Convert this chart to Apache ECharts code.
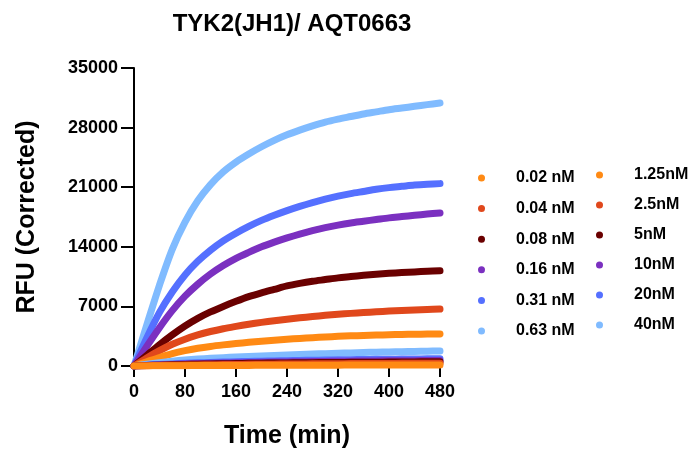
<!DOCTYPE html>
<html>
<head>
<meta charset="utf-8">
<style>
  html, body { margin: 0; padding: 0; background: #fff; }
  #chart { width: 695px; height: 454px; }
</style>
<script src="https://cdn.jsdelivr.net/npm/echarts@6/dist/echarts.min.js"></script>
</head>
<body>
<div id="chart"></div>
<script>
// time points (min)
const minutes = [0, 20, 40, 60, 80, 100, 120, 140, 160, 180, 200, 220, 240, 260, 280, 300, 320, 340, 360, 380, 400, 420, 440, 460, 480]

// RFU (corrected), one array per concentration
const c0_02 = [0, 10, 20, 30, 40, 50, 60, 60, 70, 70, 80, 80, 90, 90, 100, 100, 100, 110, 110, 110, 120, 120, 120, 130, 130]
const c0_04 = [0, 30, 60, 90, 110, 130, 150, 170, 180, 200, 210, 220, 230, 240, 250, 260, 270, 280, 290, 290, 300, 310, 320, 320, 330]
const c0_08 = [0, 50, 100, 140, 180, 210, 240, 260, 290, 310, 330, 350, 360, 380, 390, 410, 420, 430, 440, 450, 460, 470, 480, 490, 500]
const c0_16 = [0, 70, 130, 190, 240, 280, 320, 350, 380, 410, 430, 460, 480, 500, 520, 540, 550, 570, 580, 600, 610, 620, 630, 640, 650]
const c0_31 = [0, 100, 180, 250, 310, 370, 420, 460, 500, 540, 570, 600, 630, 660, 680, 700, 720, 740, 760, 780, 790, 810, 820, 840, 850]
const c0_63 = [0, 200, 390, 560, 700, 810, 900, 980, 1050, 1120, 1180, 1240, 1300, 1350, 1400, 1450, 1500, 1540, 1580, 1620, 1650, 1680, 1710, 1740, 1760]
const c1_25 = [0, 500, 1000, 1450, 1800, 2080, 2300, 2480, 2640, 2780, 2910, 3030, 3140, 3240, 3330, 3410, 3480, 3540, 3590, 3630, 3670, 3700, 3730, 3750, 3770]
const c2_5 = [0, 950, 1800, 2550, 3150, 3650, 4050, 4380, 4650, 4900, 5120, 5320, 5500, 5660, 5810, 5950, 6070, 6180, 6280, 6370, 6450, 6520, 6580, 6640, 6690]
const c5 = [0, 1250, 2500, 3650, 4700, 5600, 6350, 7000, 7600, 8150, 8600, 9000, 9400, 9700, 9950, 10150, 10350, 10500, 10650, 10780, 10880, 10970, 11050, 11120, 11180]
const c10 = [0, 2300, 4500, 6500, 8200, 9600, 10800, 11800, 12650, 13350, 14000, 14550, 15050, 15500, 15900, 16250, 16550, 16800, 17000, 17200, 17400, 17550, 17700, 17850, 17980]
const c20 = [0, 3300, 6300, 8700, 10700, 12300, 13600, 14700, 15600, 16400, 17100, 17700, 18250, 18750, 19200, 19600, 19950, 20250, 20500, 20750, 20950, 21100, 21250, 21350, 21420]
const c40 = [0, 4800, 9500, 13700, 16900, 19400, 21300, 22800, 23950, 24900, 25750, 26500, 27150, 27700, 28200, 28650, 29000, 29300, 29600, 29850, 30100, 30300, 30500, 30700, 30880]

const lowNames = ['0.02 nM', '0.04 nM', '0.08 nM', '0.16 nM', '0.31 nM', '0.63 nM']
const highNames = ['1.25nM', '2.5nM', '5nM', '10nM', '20nM', '40nM']
const lowValues = [c0_02, c0_04, c0_08, c0_16, c0_31, c0_63]
const highValues = [c1_25, c2_5, c5, c10, c20, c40]

const colors = ['#FF8A14', '#E0481C', '#6A0000', '#7B30C0', '#5570FF', '#80BBFF']
const font = "'Liberation Sans', Arial, sans-serif"

function makeSeries (name, values, color) {
  return {
    name: name,
    type: 'line',
    smooth: 0.3,
    showSymbol: false,
    symbol: 'circle',
    color: color,
    lineStyle: { width: 7, color: color, cap: 'round', join: 'round' },
    data: values.map((v, i) => [minutes[i], v])
  }
}

// high concentrations first so the low traces sit on top near zero
const series = []
for (let i = highNames.length - 1; i >= 0; i--) {
  series.push(makeSeries(highNames[i], highValues[i], colors[i]))
}
for (let i = lowNames.length - 1; i >= 0; i--) {
  series.push(makeSeries(lowNames[i], lowValues[i], colors[i]))
}

const legendBase = {
  orient: 'vertical',
  icon: 'circle',
  itemWidth: 7,
  itemHeight: 7,
  selectedMode: false,
  textStyle: {
    fontFamily: font,
    fontWeight: 'bold',
    fontSize: 16,
    lineHeight: 16,
    color: '#000',
    padding: [0, 0, 0, 26]
  }
}

const chart = echarts.init(document.getElementById('chart'))
chart.setOption({
  animation: false,
  backgroundColor: '#fff',
  title: {
    text: 'TYK2(JH1)/ AQT0663',
    left: 287,
    top: 7,
    textAlign: 'center',
    textStyle: { fontFamily: font, fontWeight: 'bold', fontSize: 24, color: '#000' }
  },
  legend: [
    Object.assign({}, legendBase, { data: lowNames, left: 473, top: 165, itemGap: 14.6 }),
    Object.assign({}, legendBase, { data: highNames, left: 591, top: 162, itemGap: 14 })
  ],
  grid: { left: 134, right: 255, top: 68, bottom: 82 },
  xAxis: {
    type: 'value',
    min: 0,
    max: 480,
    interval: 80,
    offset: 5,
    name: 'Time (min)',
    nameLocation: 'middle',
    nameGap: 53,
    nameTextStyle: { fontFamily: font, fontWeight: 'bold', fontSize: 25, color: '#000' },
    axisLine: { lineStyle: { color: '#000', width: 2 } },
    axisTick: { length: 11, lineStyle: { color: '#000', width: 2 } },
    axisLabel: { fontFamily: font, fontWeight: 'bold', fontSize: 18, color: '#000', margin: 12 },
    splitLine: { show: false }
  },
  yAxis: {
    type: 'value',
    min: 0,
    max: 35000,
    interval: 7000,
    name: 'RFU (Corrected)',
    nameLocation: 'middle',
    nameGap: 94,
    nameTextStyle: { fontFamily: font, fontWeight: 'bold', fontSize: 25, color: '#000' },
    axisLine: { show: true, lineStyle: { color: '#000', width: 2 } },
    axisTick: { show: true, length: 13, lineStyle: { color: '#000', width: 2 } },
    axisLabel: {
      fontFamily: font, fontWeight: 'bold', fontSize: 18, color: '#000', margin: 16,
      formatter: (v) => String(v)
    },
    splitLine: { show: false }
  },
  series: series
})
</script>
</body>
</html>
